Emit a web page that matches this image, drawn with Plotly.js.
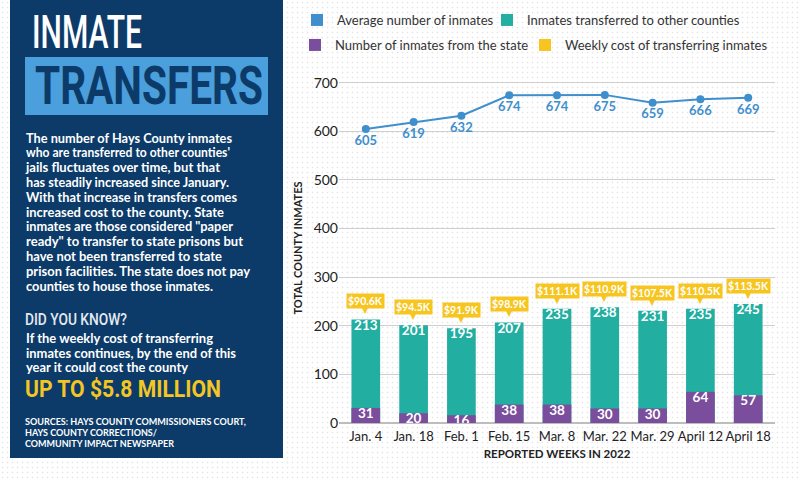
<!DOCTYPE html>
<html>
<head>
<meta charset="utf-8">
<script src="https://cdn.plot.ly/plotly-3.0.1.min.js"></script>
<style>
  html, body { margin:0; padding:0; background:#ffffff; }
  #wrap { position:relative; width:800px; height:480px; overflow:hidden;
          background-color:#ffffff;
          background-image: radial-gradient(circle, #e4e4e4 0.7px, rgba(255,255,255,0) 1.1px);
          background-size: 5px 5px; }
  #chart { position:absolute; left:0; top:0; width:800px; height:480px; }
  #panel { position:absolute; left:0; top:0; width:800px; height:480px; pointer-events:none; }
</style>
</head>
<body>
<div id="wrap">
  <div id="chart"></div>
  <svg id="panel" width="800" height="480" xmlns="http://www.w3.org/2000/svg">
    <rect x="10" y="0" width="273" height="458" fill="#0c3b69"/>
    <text x="32" y="48" font-family="Roboto, 'DejaVu Sans', sans-serif" font-weight="500" font-size="46" fill="#ffffff" textLength="110" lengthAdjust="spacingAndGlyphs">INMATE</text>
    <rect x="25" y="57" width="243" height="58" fill="#4a9fdc"/>
    <text x="35" y="104" font-family="Roboto, 'DejaVu Sans', sans-serif" font-weight="700" font-size="54" fill="#0c3b69" textLength="228" lengthAdjust="spacingAndGlyphs">TRANSFERS</text>
    <g font-family="Lato, 'Noto Sans', sans-serif" font-weight="700" font-size="12.5" fill="#ffffff">
      <text x="26" y="142.5" textLength="206" lengthAdjust="spacingAndGlyphs">The number of Hays County inmates</text>
      <text x="26" y="157.3" textLength="204" lengthAdjust="spacingAndGlyphs">who are transferred to other counties'</text>
      <text x="26" y="172.1" textLength="194" lengthAdjust="spacingAndGlyphs">jails fluctuates over time, but that</text>
      <text x="26" y="186.9" textLength="203" lengthAdjust="spacingAndGlyphs">has steadily increased since January.</text>
      <text x="26" y="201.7" textLength="211" lengthAdjust="spacingAndGlyphs">With that increase in transfers comes</text>
      <text x="26" y="216.5" textLength="198" lengthAdjust="spacingAndGlyphs">increased cost to the county. State</text>
      <text x="26" y="231.3" textLength="207" lengthAdjust="spacingAndGlyphs">inmates are those considered "paper</text>
      <text x="26" y="246.1" textLength="217" lengthAdjust="spacingAndGlyphs">ready" to transfer to state prisons but</text>
      <text x="26" y="260.9" textLength="196" lengthAdjust="spacingAndGlyphs">have not been transferred to state</text>
      <text x="26" y="275.7" textLength="224" lengthAdjust="spacingAndGlyphs">prison facilities. The state does not pay</text>
      <text x="26" y="290.5" textLength="187" lengthAdjust="spacingAndGlyphs">counties to house those inmates.</text>
    </g>
    <text x="25" y="325" font-family="Roboto, 'DejaVu Sans', sans-serif" font-weight="500" font-size="16.5" fill="#e4e9ef" textLength="102" lengthAdjust="spacingAndGlyphs">DID YOU KNOW?</text>
    <g font-family="Lato, 'Noto Sans', sans-serif" font-weight="700" font-size="13.5" fill="#ffffff">
      <text x="26" y="343.3" textLength="187" lengthAdjust="spacingAndGlyphs">If the weekly cost of transferring</text>
      <text x="26" y="357.8" textLength="210" lengthAdjust="spacingAndGlyphs">inmates continues, by the end of this</text>
      <text x="26" y="372.3" textLength="162" lengthAdjust="spacingAndGlyphs">year it could cost the county</text>
    </g>
    <text x="25" y="397" font-family="Roboto, 'DejaVu Sans', sans-serif" font-weight="700" font-size="24" fill="#f3c623" textLength="196" lengthAdjust="spacingAndGlyphs">UP TO $5.8 MILLION</text>
    <g font-family="Lato, 'Noto Sans', sans-serif" font-weight="700" font-size="9.5" fill="#ffffff">
      <text x="25" y="425" textLength="221" lengthAdjust="spacingAndGlyphs">SOURCES: HAYS COUNTY COMMISSIONERS COURT,</text>
      <text x="25" y="436" textLength="132" lengthAdjust="spacingAndGlyphs">HAYS COUNTY CORRECTIONS/</text>
      <text x="25" y="447" textLength="149" lengthAdjust="spacingAndGlyphs">COMMUNITY IMPACT NEWSPAPER</text>
    </g>
  </svg>
</div>
<script>
// ---- data ----
const weeks = ['Jan. 4', 'Jan. 18', 'Feb. 1', 'Feb. 15', 'Mar. 8', 'Mar. 22', 'Mar. 29', 'April 12', 'April 18'];
const avgInmates = [605, 619, 632, 674, 674, 675, 659, 666, 669];
const transferred = [213, 201, 195, 207, 235, 238, 231, 235, 245];
const stateInmates = [31, 20, 16, 38, 38, 30, 30, 64, 57];
const weeklyCostK = [90.6, 94.5, 91.9, 98.9, 111.1, 110.9, 107.5, 110.5, 113.5];
const yTicks = [0, 100, 200, 300, 400, 500, 600, 700];

// ---- styles ----
const BLUE = '#3f8fcd', TEAL = '#22aea1', PURPLE = '#7a4e9c', YELLOW = '#f6c520';
const FONT = 'Lato, "Noto Sans", sans-serif';

const traces = [
  { type: 'bar', name: 'Average number of inmates', x: [null], y: [null], marker: { color: BLUE }, legend: 'legend', hoverinfo: 'skip' },
  { type: 'bar', name: 'Inmates transferred to other counties', x: weeks, y: transferred, width: 0.6,
    marker: { color: TEAL, opacity: 1 }, legend: 'legend2', hoverinfo: 'skip' },
  { type: 'bar', name: 'Number of inmates from the state', x: weeks, y: stateInmates, width: 0.6,
    marker: { color: PURPLE, opacity: 1 }, legend: 'legend3', hoverinfo: 'skip' },
  { type: 'bar', name: 'Weekly cost of transferring inmates', x: [null], y: [null], marker: { color: YELLOW }, legend: 'legend4', hoverinfo: 'skip' },
  { type: 'scatter', mode: 'lines+markers+text', x: weeks, y: avgInmates, showlegend: false,
    line: { color: BLUE, width: 2 }, marker: { color: BLUE, size: 8 },
    text: avgInmates.map(String), textposition: 'bottom center',
    textfont: { family: FONT, size: 13, color: BLUE, weight: 700 }, hoverinfo: 'skip' },
  { type: 'scatter', mode: 'text', x: weeks, y: transferred, showlegend: false,
    text: transferred.map(String), textposition: 'bottom center',
    textfont: { family: FONT, size: 13.5, color: '#ffffff', weight: 700 }, hoverinfo: 'skip' },
  { type: 'scatter', mode: 'text', x: weeks, y: stateInmates, showlegend: false,
    text: stateInmates.map(String), textposition: 'bottom center',
    textfont: { family: FONT, size: 13.5, color: '#ffffff', weight: 700 }, hoverinfo: 'skip' }
];

const annotations = [];
weeks.forEach((w, i) => {
  annotations.push({
    x: w, y: transferred[i], xref: 'x', yref: 'y', yanchor: 'bottom', yshift: 10,
    text: '$' + weeklyCostK[i].toFixed(1) + 'K', showarrow: false,
    bgcolor: YELLOW, borderpad: 1,
    font: { family: FONT, size: 10.5, color: '#ffffff', weight: 700 }
  });
  annotations.push({
    x: w, y: transferred[i], xref: 'x', yref: 'y', yanchor: 'bottom', yshift: 2,
    text: '▼', showarrow: false,
    font: { family: '"DejaVu Sans", sans-serif', size: 8, color: YELLOW }
  });
});

function legendAt(px, pyTop) {
  return {
    orientation: 'h', xref: 'container', yref: 'container',
    x: px / 800, y: 1 - pyTop / 480, xanchor: 'left', yanchor: 'top',
    font: { family: FONT, size: 13, color: '#333333' }, bgcolor: 'rgba(0,0,0,0)'
  };
}

const layout = {
  width: 800, height: 480,
  margin: { l: 339, r: 25, t: 73, b: 57 },
  paper_bgcolor: 'rgba(0,0,0,0)', plot_bgcolor: 'rgba(0,0,0,0)',
  barmode: 'overlay', showlegend: true,
  font: { family: FONT, color: '#222222' },
  xaxis: {
    type: 'category', categoryorder: 'array', categoryarray: weeks,
    showgrid: false, showline: false, zeroline: false, ticks: '', tickangle: 0,
    ticklabelstandoff: 4,
    tickfont: { family: FONT, size: 13, color: '#222222' },
    title: { text: 'REPORTED WEEKS IN 2022', font: { family: FONT, size: 11.5, color: '#222222', weight: 700 }, standoff: 6 },
    fixedrange: true
  },
  yaxis: {
    range: [0, 720], tickvals: yTicks, ticktext: yTicks.map(String),
    showgrid: true, gridcolor: '#cfcfcf', gridwidth: 1,
    zeroline: true, zerolinecolor: '#bdbdbd', zerolinewidth: 1.5,
    showline: false, ticks: '',
    tickfont: { family: FONT, size: 14, color: '#222222' },
    title: { text: 'TOTAL COUNTY INMATES', font: { family: FONT, size: 11, color: '#222222', weight: 700 }, standoff: 8 },
    fixedrange: true
  },
  legend: legendAt(297, 5),
  legend2: legendAt(487, 5),
  legend3: legendAt(295, 30),
  legend4: legendAt(525, 30),
  annotations: annotations
};

Plotly.newPlot('chart', traces, layout, { displayModeBar: false, staticPlot: true });
</script>
</body>
</html>
